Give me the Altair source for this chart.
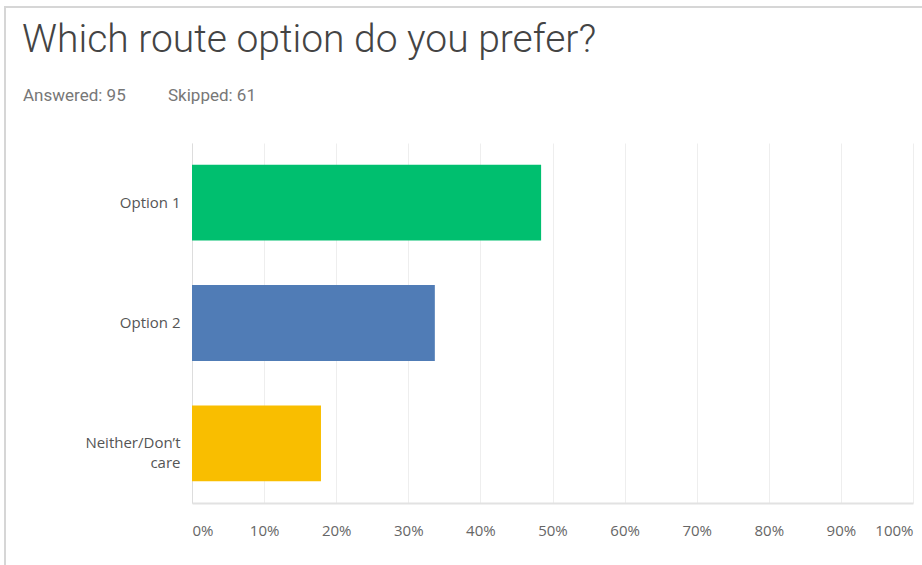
import altair as alt
import pandas as pd

# ---- data ----
options = ["Option 1", "Option 2", "Neither/Don’t care"]
percents = [48.42, 33.68, 17.89]
bar_colors = ["#00BF6F", "#507CB6", "#F9BE00"]
x_ticks = [0, 10, 20, 30, 40, 50, 60, 70, 80, 90, 100]
title_text = "Which route option do you prefer?"
answered = 95
skipped = 61

df = pd.DataFrame({"option": options, "pct": percents})

W, H = 721, 360

bars = alt.Chart(df).mark_bar().encode(
    y=alt.Y(
        "option:N",
        sort=options,
        scale=alt.Scale(paddingInner=0.37, paddingOuter=0.18),
        axis=alt.Axis(
            title=None,
            ticks=False,
            domain=True,
            domainColor="#dddddd",
            domainWidth=1,
            labelPadding=12,
            labelFontSize=15,
            labelFont="Open Sans",
            labelColor="#555555",
            labelLineHeight=20,
            labelExpr="datum.value == 'Neither/Don’t care' ? ['Neither/Don’t', 'care'] : datum.value",
        ),
    ),
    x=alt.X(
        "pct:Q",
        scale=alt.Scale(domain=[0, 100], nice=False),
        axis=alt.Axis(
            title=None,
            values=x_ticks,
            ticks=False,
            grid=True,
            gridColor="#eeeeee",
            gridWidth=1,
            domain=True,
            domainColor="#e2e2e2",
            domainWidth=2,
            labelPadding=20,
            labelFontSize=15,
            labelFont="Open Sans",
            labelColor="#666666",
            labelFlush=True,
            labelExpr="datum.value + '%'",
        ),
    ),
    color=alt.Color(
        "option:N",
        sort=options,
        scale=alt.Scale(domain=options, range=bar_colors),
        legend=None,
    ),
)

title = alt.Chart(pd.DataFrame({"t": [title_text]})).mark_text(
    align="left", baseline="alphabetic", font="Roboto", fontWeight=300,
    fontSize=39, color="#444444"
).encode(text="t:N", x=alt.value(-170), y=alt.value(-91))

sub1 = alt.Chart(pd.DataFrame({"t": [f"Answered: {answered}"]})).mark_text(
    align="left", baseline="alphabetic", font="Roboto", fontSize=17, color="#777777"
).encode(text="t:N", x=alt.value(-169), y=alt.value(-42))

sub2 = alt.Chart(pd.DataFrame({"t": [f"Skipped: {skipped}"]})).mark_text(
    align="left", baseline="alphabetic", font="Roboto", fontSize=17, color="#777777"
).encode(text="t:N", x=alt.value(-24), y=alt.value(-42))

frame = alt.Chart(pd.DataFrame({"a": [0]})).mark_rect(
    fill=None, stroke="#d6d6d6", strokeWidth=2
).encode(x=alt.value(-187), x2=alt.value(760), y=alt.value(-136), y2=alt.value(480))

chart = alt.layer(frame, bars, title, sub1, sub2).properties(
    width=W,
    height=H,
    autosize=alt.AutoSizeParams(type="none"),
    padding={"left": 192, "top": 143, "right": 9, "bottom": 62},
    background="#ffffff",
).configure_view(stroke=None)

chart.save("out.html", embed_options={"renderer": "svg", "actions": False})
